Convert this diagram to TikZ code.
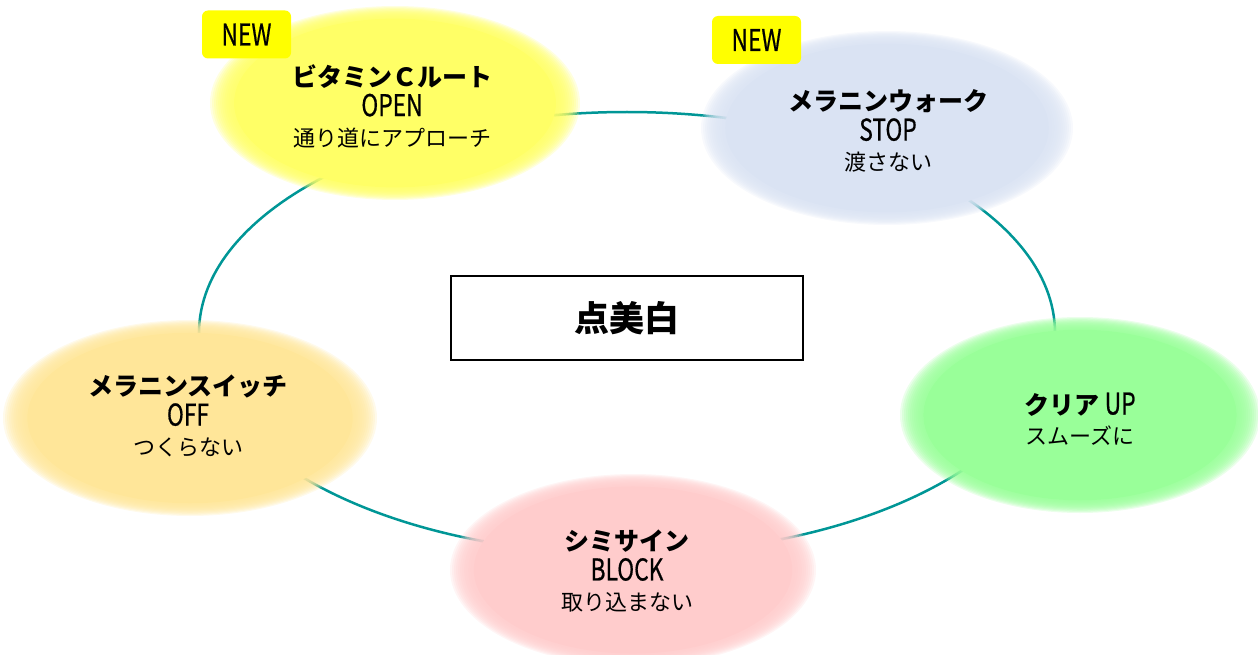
\documentclass[tikz,border=0pt]{standalone}
\usepackage{fontspec}
\setmainfont{Noto Sans CJK JP}
\newfontfamily\latfont{Noto Sans CJK JP}[FakeBold=0.7]
\usepackage{graphicx}
\definecolor{ringteal}{RGB}{0,150,150}
\definecolor{cyel}{RGB}{255,255,102}
\definecolor{cblue}{RGB}{218,227,243}
\definecolor{corange}{RGB}{255,230,153}
\definecolor{cpink}{RGB}{255,204,204}
\definecolor{cgreen}{RGB}{153,255,153}
\definecolor{newyel}{RGB}{255,255,0}
\newcommand\lat[1]{\scalebox{0.95}[1.25]{\latfont #1}}
\newcommand\subt{\fontsize{22}{30}\selectfont}
\newcommand\softell[5]{%
  \foreach \k in {0,...,11}{%
    \fill[#1, fill opacity=0.2] (#2,#3) ellipse [x radius={#4*(1-0.011*\k)}, y radius={#5*(1-0.011*\k)}];
  }%
  \fill[#1] (#2,#3) ellipse [x radius={#4*0.87}, y radius={#5*0.87}];
}
\tikzset{
  lbl/.style={align=center, font=\fontsize{24}{30}\selectfont, inner sep=0pt},
  newbox/.style={fill=newyel, rounded corners=6pt, minimum width=89pt, minimum height=48pt, font=\fontsize{24}{24}\selectfont, inner sep=0pt},
  titlebox/.style={draw=black, line width=2pt, minimum width=352pt, minimum height=84pt, font=\bfseries\fontsize{35}{35}\selectfont}
}
\begin{document}
\begin{tikzpicture}[x=1pt,y=-1pt]
\useasboundingbox (0,0) rectangle (1258,655);
% ring
\draw[ringteal, line width=2.5pt] (627,333) ellipse [x radius=428, y radius=221];
% soft ellipses
\softell{cyel}{395}{103}{185}{97}
\softell{cblue}{887}{128}{186}{97}
\softell{corange}{190}{418}{187}{98}
\softell{cpink}{633}{570}{183}{96}
\softell{cgreen}{1080}{415}{180}{98}
% texts
\node[lbl] (vitc) at (392,106) {{\bfseries\fontsize{25}{30}\selectfont ビタミンＣルート}\\ \lat{OPEN}\\ {\subt 通り道にアプローチ}};
\node[lbl] (walk) at (888,131) {{\bfseries\fontsize{25}{30}\selectfont メラニンウォーク}\\ \lat{STOP}\\ {\subt 渡さない}};
\node[lbl] (swit) at (188,416) {{\bfseries\fontsize{25}{30}\selectfont メラニンスイッチ}\\ \lat{OFF}\\ {\subt つくらない}};
\node[lbl] (sign) at (627,571) {{\bfseries\fontsize{25}{30}\selectfont シミサイン}\\ \lat{BLOCK}\\ {\subt 取り込まない}};
\node[lbl] (clear) at (1080,419) {{\bfseries\fontsize{25}{30}\selectfont クリア} \lat{UP}\\ {\subt スムーズに}};
% center
\node[titlebox] (center) at (626.5,318) {点美白};
% NEW tags
\node[newbox] (new1) at (246.5,34.5) {\lat{NEW}};
\node[newbox] (new2) at (756.5,40) {\lat{NEW}};
\end{tikzpicture}
\end{document}
